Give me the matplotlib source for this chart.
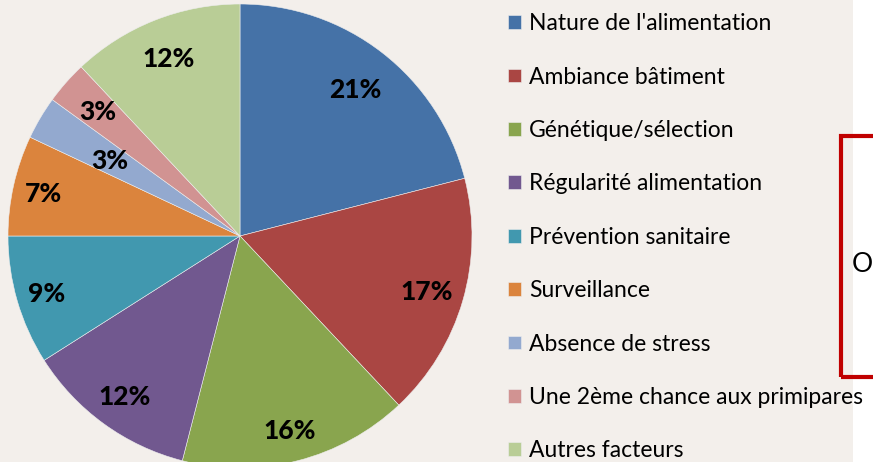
import matplotlib
matplotlib.use("Agg")
import matplotlib.pyplot as plt
from matplotlib.patches import Rectangle
import numpy as np

categories = ["Nature de l'alimentation", "Ambiance bâtiment", "Génétique/sélection",
              "Régularité alimentation", "Prévention sanitaire", "Surveillance",
              "Absence de stress", "Une 2ème chance aux primipares", "Autres facteurs"]
values = [21, 17, 16, 12, 9, 7, 3, 3, 12]
colors = ["#4572a7", "#aa4643", "#89a54e", "#71588f", "#4198af",
          "#db843d", "#93a9cf", "#d19392", "#b9cd96"]
# radial placement of each percentage label (fraction of radius), as laid out in the reference
label_radius = [0.81, 0.84, 0.86, 0.845, 0.87, 0.866, 0.65, 0.82, 0.83]

plt.rcParams['font.family'] = ['Lato', 'DejaVu Sans']
W, H = 873, 462
fig = plt.figure(figsize=(W / 100, H / 100), dpi=100)
fig.patch.set_facecolor("#f3efeb")

# white strip at right and red framed box
fig.patches.append(Rectangle((853 / W, 0), 20 / W, 1, transform=fig.transFigure,
                             facecolor="white", edgecolor="none", zorder=0))
fig.patches.append(Rectangle((841 / W, (H - 377) / H), 60 / W, 241 / H, transform=fig.transFigure,
                             facecolor="none", edgecolor="#c00000", linewidth=3, zorder=1))
fig.text(873 / W, (H - 264) / H, "O", fontsize=19, va="center", ha="right", color="black")

R = 232
cx, cy = 240, H - 236
ax = fig.add_axes([(cx - R) / W, (cy - R) / H, 2 * R / W, 2 * R / H])
wedges, texts, autotexts = ax.pie(values, colors=colors, startangle=90, counterclock=False,
                                  autopct=lambda p: f"{p:.0f}%", pctdistance=0.84,
                                  wedgeprops=dict(edgecolor="#eeeeee", linewidth=0.4),
                                  textprops=dict(fontsize=19, fontweight="black", color="black"))
for t, r in zip(autotexts, label_radius):
    t.set_va("center_baseline")
    x, y = t.get_position()
    s = r / np.hypot(x, y)
    t.set_position((x * s, y * s))
ax.set_xlim(-1, 1)
ax.set_ylim(-1, 1)
ax.set_aspect("equal")
ax.axis("off")

leg = fig.legend(wedges, categories, loc="upper left", bbox_to_anchor=(499 / W, 1 - 4 / H),
                 frameon=False, fontsize=16.5, handlelength=0.55, handleheight=0.55,
                 handletextpad=0.35, labelspacing=1.414, borderaxespad=0)

fig.savefig("out.png", dpi=100, facecolor=fig.get_facecolor())
